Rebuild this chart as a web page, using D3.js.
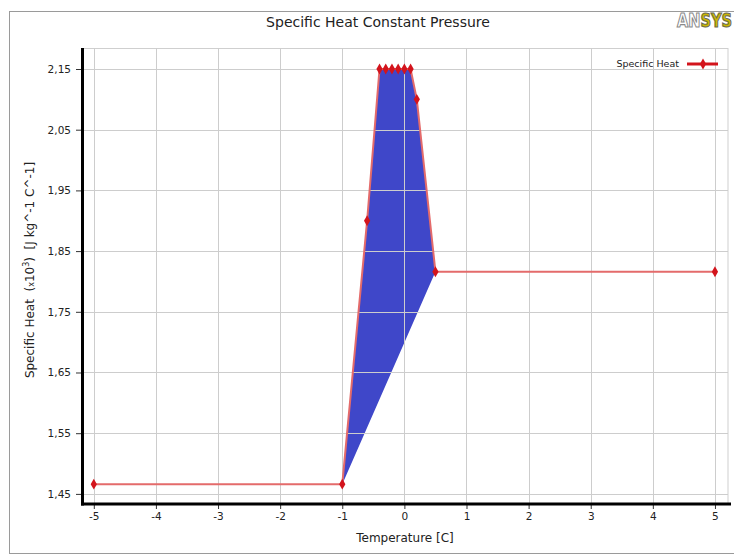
<!DOCTYPE html>
<html>
<head>
<meta charset="utf-8">
<script src="https://cdn.jsdelivr.net/npm/d3@7"></script>
<style>
  html, body { margin: 0; padding: 0; background: #fff; }
  svg { display: block; font-family: "DejaVu Sans", sans-serif; }
</style>
</head>
<body>
<svg id="chart" width="734" height="557"></svg>
<script>
// Specific heat at constant pressure vs temperature (values in 10^3 J kg^-1 C^-1)
const temperature = [-5, -1, -0.6, -0.4, -0.3, -0.2, -0.1, 0, 0.1, 0.2, 0.5, 5];
const specificHeat = [1.466, 1.466, 1.90, 2.15, 2.15, 2.15, 2.15, 2.15, 2.15, 2.10, 1.816, 1.816];

const xTicks = [-5, -4, -3, -2, -1, 0, 1, 2, 3, 4, 5];
const xTickLabels = ["-5", "-4", "-3", "-2", "-1", "0", "1", "2", "3", "4", "5"];
const yTicks = [1.45, 1.55, 1.65, 1.75, 1.85, 1.95, 2.05, 2.15];
const yTickLabels = ["1,45", "1,55", "1,65", "1,75", "1,85", "1,95", "2,05", "2,15"];

const titleText = "Specific Heat Constant Pressure";
const xLabel = "Temperature [C]";
const seriesName = "Specific Heat";

const svg = d3.select("#chart");

// outer frame
svg.append("rect")
  .attr("x", 9.5).attr("y", 11.5).attr("width", 740).attr("height", 542)
  .attr("fill", "#fff").attr("stroke", "#9a9a9a").attr("stroke-width", 1);

const plot = { left: 82, right: 728, top: 48, bottom: 503 };

const x = d3.scaleLinear().domain([-5.19, 5.21]).range([plot.left, plot.right]);
const y = d3.scaleLinear().domain([1.435, 2.1846]).range([plot.bottom, plot.top]);

// title
svg.append("text")
  .attr("x", 378).attr("y", 27)
  .attr("text-anchor", "middle")
  .attr("font-size", 14).attr("fill", "#222")
  .text(titleText);

// logo, in two coloured parts, squeezed horizontally into the corner
const logoFont = "'DejaVu Sans Condensed', 'DejaVu Sans', sans-serif";
const logo = svg.append("g");
const an = logo.append("text")
  .attr("x", 0).attr("y", 0)
  .attr("font-size", 19).attr("font-weight", "bold").attr("font-family", logoFont)
  .attr("fill", "#ffffff").attr("stroke", "#8a8a8a").attr("stroke-width", 1.1)
  .text("AN");
const anW = an.node().getComputedTextLength();
const sys = logo.append("text")
  .attr("x", anW).attr("y", 0)
  .attr("font-size", 19).attr("font-weight", "bold").attr("font-family", logoFont)
  .attr("fill", "#cdb800").attr("stroke", "#6a6a50").attr("stroke-width", 1.1)
  .text("SYS");
const totalW = anW + sys.node().getComputedTextLength();
logo.attr("transform", `translate(677,27) scale(${55 / totalW},1)`);

// plot area border (light)
svg.append("rect")
  .attr("x", plot.left).attr("y", plot.top + 0.5)
  .attr("width", plot.right - plot.left).attr("height", plot.bottom - plot.top)
  .attr("fill", "none").attr("stroke", "#cfcfcf");

// filled region under the transition curve, closed back along the chord
const i0 = temperature.indexOf(-1);
const i1 = temperature.indexOf(0.5);
const fillPts = d3.range(i0, i1 + 1).map(i => [x(temperature[i]), y(specificHeat[i])]);
svg.append("path")
  .attr("d", d3.line()(fillPts) + "Z")
  .attr("fill", "#3f47c9");

// grid
const grid = svg.append("g").attr("stroke", "#cdcdcd").attr("stroke-width", 1);
grid.selectAll("line.v").data(xTicks).join("line")
  .attr("x1", d => Math.round(x(d)) + 0.5).attr("x2", d => Math.round(x(d)) + 0.5)
  .attr("y1", plot.top).attr("y2", plot.bottom);
grid.selectAll("line.h").data(yTicks).join("line")
  .attr("x1", plot.left).attr("x2", plot.right)
  .attr("y1", d => Math.round(y(d)) + 0.5).attr("y2", d => Math.round(y(d)) + 0.5);

// axes
const yAxis = d3.axisLeft(y).tickValues(yTicks)
  .tickFormat((d, i) => yTickLabels[i]).tickSize(5).tickPadding(5);
const gy = svg.append("g").attr("transform", `translate(${plot.left - 1},0)`).call(yAxis);
const xAxis = d3.axisBottom(x).tickValues(xTicks)
  .tickFormat((d, i) => xTickLabels[i]).tickSize(5).tickPadding(4);
const gx = svg.append("g").attr("transform", `translate(0,${plot.bottom + 1})`).call(xAxis);
[gx, gy].forEach(g => {
  g.select(".domain").remove();
  g.selectAll(".tick line").attr("stroke", "#333");
  g.selectAll(".tick text").attr("fill", "#222").attr("font-size", 10.5)
    .attr("font-family", "'DejaVu Sans', sans-serif");
});

// thick black axis lines
svg.append("line").attr("x1", plot.left + 0.5).attr("x2", plot.left + 0.5)
  .attr("y1", plot.top).attr("y2", plot.bottom + 2.5)
  .attr("stroke", "#000").attr("stroke-width", 3);
svg.append("line").attr("x1", plot.left - 1).attr("x2", plot.right + 3)
  .attr("y1", plot.bottom + 1).attr("y2", plot.bottom + 1)
  .attr("stroke", "#000").attr("stroke-width", 3);

// axis titles
svg.append("text")
  .attr("x", 405).attr("y", 542)
  .attr("text-anchor", "middle").attr("font-size", 12).attr("fill", "#222")
  .text(xLabel);

const yl = svg.append("text")
  .attr("transform", "translate(34,270) rotate(-90)")
  .attr("text-anchor", "middle").attr("font-size", 12).attr("fill", "#222")
  .style("white-space", "pre");
yl.append("tspan").text("Specific Heat\u00A0\u00A0(");
yl.append("tspan").attr("font-size", 8).text("x");
yl.append("tspan").text("10");
yl.append("tspan").attr("font-size", 8).attr("dy", -5).text("3");
yl.append("tspan").attr("dy", 5).text(")\u00A0\u00A0[J kg^-1 C^-1]");

// series line and markers
const line = d3.line().x((d, i) => x(temperature[i])).y(d => y(d));
svg.append("path")
  .datum(specificHeat)
  .attr("d", line)
  .attr("fill", "none")
  .attr("stroke", "#e46b6b")
  .attr("stroke-width", 2);

const diamond = d3.symbol().type(d3.symbolDiamond).size(34);
svg.selectAll("path.marker").data(specificHeat).join("path")
  .attr("class", "marker")
  .attr("d", diamond)
  .attr("transform", (d, i) => `translate(${x(temperature[i])},${y(d)})`)
  .attr("fill", "#d3141c");

// legend
svg.append("text")
  .attr("x", 679).attr("y", 67)
  .attr("text-anchor", "end").attr("font-size", 9.5).attr("fill", "#222")
  .text(seriesName);
svg.append("line")
  .attr("x1", 687).attr("x2", 718).attr("y1", 64).attr("y2", 64)
  .attr("stroke", "#d3141c").attr("stroke-width", 3);
svg.append("path")
  .attr("d", diamond)
  .attr("transform", "translate(703,64)")
  .attr("fill", "#d3141c");
</script>
</body>
</html>
